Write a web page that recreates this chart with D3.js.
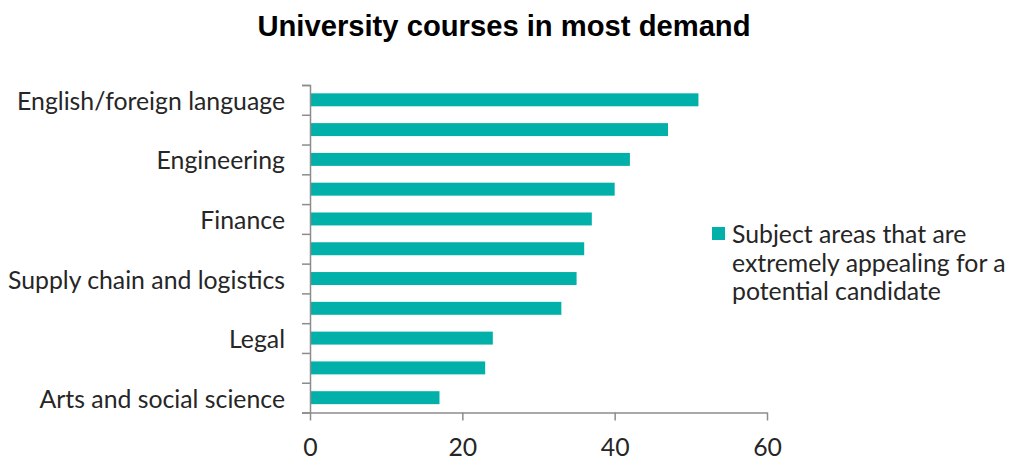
<!DOCTYPE html>
<html>
<head>
<meta charset="utf-8">
<script src="https://cdn.jsdelivr.net/npm/d3@7"></script>
<style>
  html, body { margin: 0; padding: 0; background: #fff; }
  svg { display: block; }
</style>
</head>
<body>
<svg id="chart" width="1011" height="459"></svg>
<script>
// Category labels (only every other label is printed on the axis)
const categories = [
  "English/foreign language", "", "Engineering", "", "Finance", "",
  "Supply chain and logistics", "", "Legal", "", "Arts and social science"
];
// Share of respondents (%)
const values = [51, 47, 42, 40, 37, 36, 35, 33, 24, 23, 17];
const xTicks = [0, 20, 40, 60];
const seriesName = ["Subject areas that are", "extremely appealing for a", "potential candidate"];
const title = "University courses in most demand";

const svg = d3.select("#chart");
const barColor = "#00b0a9";
const axisColor = "#8c8c8c";
const textColor = "#262626";
const labelFont = "Lato, 'Open Sans', sans-serif";
const labelSize = 24.8;

const plot = { left: 310, right: 767, top: 85, bottom: 412.5 };

const x = d3.scaleLinear().domain([0, 60]).range([plot.left, plot.right]);
const idx = d3.range(categories.length);
const y = d3.scaleBand().domain(idx).range([plot.top, plot.bottom]).paddingInner(0.565).paddingOuter(0.28);
// boundary scale for tick marks between categories
const yEdge = d3.scaleLinear().domain([0, categories.length]).range([plot.top, plot.bottom]);
const yBand = d3.scaleBand().domain(idx).range([plot.top, plot.bottom]);

// title
svg.append("text")
  .attr("x", 504).attr("y", 36)
  .attr("text-anchor", "middle")
  .attr("font-family", "'Liberation Sans', Arial, sans-serif")
  .attr("font-weight", "bold")
  .attr("font-size", 29.2)
  .attr("fill", "#000")
  .text(title);

// bars
svg.append("g").selectAll("rect")
  .data(values)
  .join("rect")
  .attr("x", x(0))
  .attr("y", (d, i) => y(i))
  .attr("width", d => x(d) - x(0))
  .attr("height", y.bandwidth())
  .attr("fill", barColor);

// y axis: line + boundary ticks
const yAxis = svg.append("g")
  .attr("transform", `translate(${plot.left},0)`)
  .call(d3.axisLeft(yEdge).tickValues(d3.range(categories.length + 1)).tickSize(8).tickFormat(""));
yAxis.select(".domain").attr("stroke", axisColor).attr("stroke-width", 1.5);
yAxis.selectAll(".tick line").attr("stroke", axisColor).attr("stroke-width", 1.5);

// category labels
svg.append("g").selectAll("text")
  .data(idx.filter(i => categories[i] !== ""))
  .join("text")
  .attr("x", 285)
  .attr("y", i => yBand(i) + yBand.bandwidth() / 2 + 10)
  .attr("text-anchor", "end")
  .attr("font-family", labelFont)
  .attr("font-size", labelSize)
  .attr("fill", textColor)
  .text(i => categories[i]);

// x axis
const xAxis = svg.append("g")
  .attr("transform", `translate(0,${plot.bottom})`)
  .call(d3.axisBottom(x).tickValues(xTicks).tickSize(8).tickSizeOuter(0));
xAxis.select(".domain").attr("stroke", axisColor).attr("stroke-width", 1.5);
xAxis.selectAll(".tick line").attr("stroke", axisColor).attr("stroke-width", 1.5);
xAxis.selectAll(".tick text")
  .attr("y", 43).attr("dy", null)
  .attr("font-family", labelFont)
  .attr("font-size", labelSize)
  .attr("fill", textColor);

// legend
const legend = svg.append("g");
legend.append("rect")
  .attr("x", 712).attr("y", 227)
  .attr("width", 13).attr("height", 13)
  .attr("fill", barColor);
legend.append("text")
  .attr("font-family", labelFont)
  .attr("font-size", labelSize)
  .attr("fill", textColor)
  .selectAll("tspan")
  .data(seriesName)
  .join("tspan")
  .attr("x", 732)
  .attr("y", (d, i) => 243 + i * 28.7)
  .text(d => d);
</script>
</body>
</html>
